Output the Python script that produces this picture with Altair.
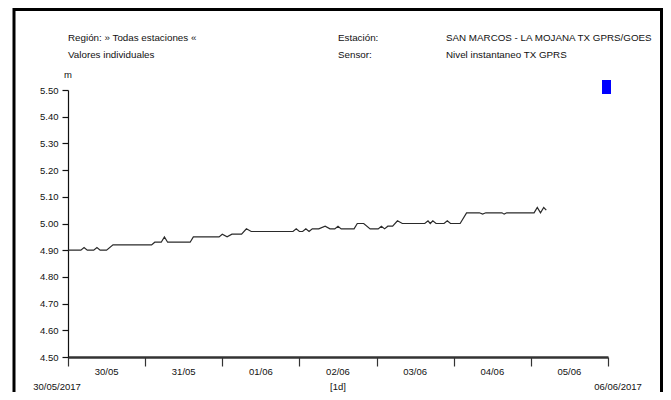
import altair as alt
import pandas as pd

# ---- data ----
# hours since 30/05/2017 00:00
hours = [0, 4, 5, 6, 8, 9, 10, 12, 14, 26, 27, 29, 30, 31, 38, 39, 47, 48, 49.5, 51,
         54, 55.5, 57, 70, 71, 72, 73, 74, 75, 76, 78, 80, 81.5, 83, 84, 85, 89, 90,
         92, 94, 96.5, 97.5, 98.5, 99.5, 101, 102.5, 104, 111, 112, 112.7, 113.5,
         114.5, 117, 118, 119, 122, 124, 128, 129, 130, 135, 135.7, 136.5, 145, 146,
         147, 148, 148.8]
level = [4.90, 4.90, 4.91, 4.90, 4.90, 4.91, 4.90, 4.90, 4.92, 4.92, 4.93, 4.93, 4.95,
         4.93, 4.93, 4.95, 4.95, 4.96, 4.95, 4.96, 4.96, 4.98, 4.97, 4.97, 4.98, 4.97,
         4.97, 4.98, 4.97, 4.98, 4.98, 4.99, 4.98, 4.98, 4.99, 4.98, 4.98, 5.00, 5.00,
         4.98, 4.98, 4.99, 4.98, 4.99, 4.99, 5.01, 5.00, 5.00, 5.01, 5.00, 5.01, 5.00,
         5.00, 5.01, 5.00, 5.00, 5.04, 5.04, 5.035, 5.04, 5.04, 5.035, 5.04, 5.04, 5.06,
         5.04, 5.06, 5.05]

day_labels = ["30/05", "31/05", "01/06", "02/06", "03/06", "04/06", "05/06"]
day_mid_hours = [12, 36, 60, 84, 108, 132, 156]
day_bound_hours = [0, 24, 48, 72, 96, 120, 144, 168]
y_ticks = [4.50, 4.60, 4.70, 4.80, 4.90, 5.00, 5.10, 5.20, 5.30, 5.40, 5.50]

header_left = ["Región: » Todas estaciones «", "Valores individuales"]
header_mid = ["Estación:", "Sensor:"]
header_right = ["SAN MARCOS - LA MOJANA TX GPRS/GOES", "Nivel instantaneo TX GPRS"]
unit = "m"
start_label = "30/05/2017"
end_label = "06/06/2017"
interval_label = "[1d]"

FONT = "Liberation Sans, Arial, sans-serif"
W, H = 540, 267

df = pd.DataFrame({"h": hours, "v": level})
xs = alt.Scale(domain=[0, 168], nice=False, zero=False)
ys = alt.Scale(domain=[4.5, 5.5], nice=False, zero=False)

line = alt.Chart(df).mark_line(color="#2a2a2a", strokeWidth=1.2).encode(
    x=alt.X("h:Q", scale=xs,
            axis=alt.Axis(values=day_bound_hours, labels=False, title=None, grid=False,
                          domainColor="#333333", domainWidth=2.5, tickColor="#333333",
                          tickWidth=1.2, tickSize=9)),
    y=alt.Y("v:Q", scale=ys,
            axis=alt.Axis(values=y_ticks, format=".2f", title=None, grid=False,
                          domainColor="#111111", domainWidth=1.2, tickColor="#111111",
                          tickWidth=1.2, tickSize=6, labelFont=FONT, labelFontSize=9.5,
                          labelColor="#111111", labelPadding=4)),
)

days = alt.Chart(pd.DataFrame({"h": day_mid_hours, "t": day_labels})).mark_text(
    font=FONT, fontSize=9.5, color="#111111", baseline="middle").encode(
    x=alt.X("h:Q", scale=xs), y=alt.value(H + 15), text="t:N")

one = pd.DataFrame({"a": [0]})

def txt(s, x, y, align="left", size=9.8):
    return alt.Chart(one).mark_text(text=s, font=FONT, fontSize=size, color="#111111",
                                    align=align, baseline="middle").encode(
        x=alt.value(x), y=alt.value(y))

texts = [
    txt(header_left[0], 0, -52), txt(header_left[1], 0, -35),
    txt(header_mid[0], 270, -52), txt(header_mid[1], 270, -35),
    txt(header_right[0], 378, -52), txt(header_right[1], 378, -35),
    txt(unit, 0, -15, "center", 9.5),
    txt(start_label, -11, 297, "center", 9.5),
    txt(interval_label, 270, 297, "center", 9.5),
    txt(end_label, 550, 297, "center", 9.5),
]

legend_box = alt.Chart(one).mark_rect(color="#0000ff").encode(
    x=alt.value(534), x2=alt.value(543), y=alt.value(-10), y2=alt.value(4))

frame = alt.Chart(one).mark_rect(filled=False, stroke="#000000", strokeWidth=3).encode(
    x=alt.value(-54), x2=alt.value(593.5), y=alt.value(-80.5), y2=alt.value(340))

chart = alt.layer(frame, line, days, legend_box, *texts).properties(
    width=W, height=H,
    autosize=alt.AutoSizeParams(type="none"),
    padding={"left": 60, "top": 82, "right": 55, "bottom": 35},
    background="white",
).configure_view(stroke=None)

chart.save("out.html", embed_options={"renderer": "svg", "actions": False})
